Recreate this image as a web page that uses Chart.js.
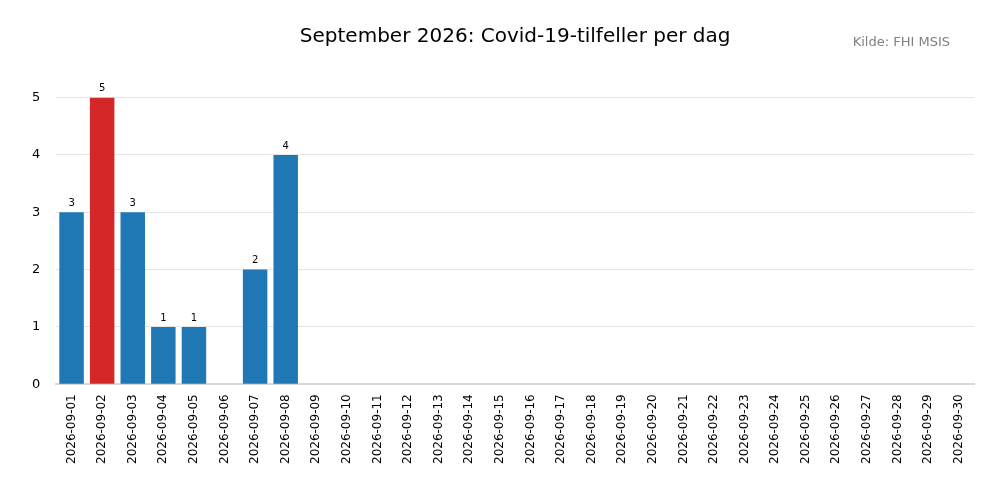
<!DOCTYPE html>
<html>
<head>
<meta charset="utf-8">
<script src="https://cdn.jsdelivr.net/npm/chart.js@4"></script>
<style>
  body { margin: 0; background: #fff; }
  #wrap { width: 1000px; height: 500px; }
</style>
</head>
<body>
<div id="wrap"><canvas id="chart"></canvas></div>
<script>
const days = [];
for (let d = 1; d <= 30; d++) days.push("2026-09-" + String(d).padStart(2, "0"));
const cases = [3, 5, 3, 1, 1, 0, 2, 4, 0, 0, 0, 0, 0, 0, 0, 0, 0, 0, 0, 0, 0, 0, 0, 0, 0, 0, 0, 0, 0, 0];
const yTicks = [0, 1, 2, 3, 4, 5];
const maxCases = Math.max(...cases);
const colors = cases.map(v => v === maxCases ? "#d62728" : "#1f77b4");
const titleText = "September 2026: Covid-19-tilfeller per dag";

// title over plot area, labels above bars, source text
const extras = {
  id: "extras",
  afterDatasetsDraw(chart) {
    const ctx = chart.ctx;
    const area = chart.chartArea;
    const meta = chart.getDatasetMeta(0);
    ctx.save();
    ctx.font = "10px 'DejaVu Sans'";
    ctx.fillStyle = "#000";
    ctx.textAlign = "center";
    ctx.textBaseline = "bottom";
    meta.data.forEach((bar, i) => {
      if (cases[i] > 0) ctx.fillText(String(cases[i]), bar.x, bar.y - 4);
    });
    ctx.font = "20px 'DejaVu Sans'";
    ctx.textBaseline = "middle";
    ctx.fillText(titleText, (area.left + area.right) / 2, 37);
    ctx.font = "13px 'DejaVu Sans'";
    ctx.fillStyle = "#808080";
    ctx.textAlign = "right";
    ctx.fillText("Kilde: FHI MSIS", 950, 43);
    ctx.restore();
  }
};

new Chart(document.getElementById("chart"), {
  type: "bar",
  data: {
    labels: days,
    datasets: [{ data: cases, backgroundColor: colors, categoryPercentage: 1, barPercentage: 0.8 }]
  },
  options: {
    responsive: true,
    maintainAspectRatio: false,
    animation: false,
    layout: { padding: { left: 16, right: 26, top: 69, bottom: 26 } },
    scales: {
      x: {
        grid: { display: false, drawTicks: false },
        border: { color: "#d9d9d9", width: 2 },
        ticks: { color: "#000", font: { family: "DejaVu Sans", size: 12 }, maxRotation: 90, minRotation: 90, autoSkip: false, padding: 10 }
      },
      y: {
        min: 0, max: 5.5,
        afterBuildTicks: axis => { axis.ticks = yTicks.map(v => ({ value: v })); },
        grid: { color: "#e6e6e6", drawTicks: false },
        border: { display: false },
        ticks: { color: "#000", font: { family: "DejaVu Sans", size: 13 }, padding: 16 }
      }
    },
    plugins: {
      legend: { display: false },
      tooltip: { enabled: false },
      title: { display: false }
    }
  },
  plugins: [extras]
});
</script>
</body>
</html>
